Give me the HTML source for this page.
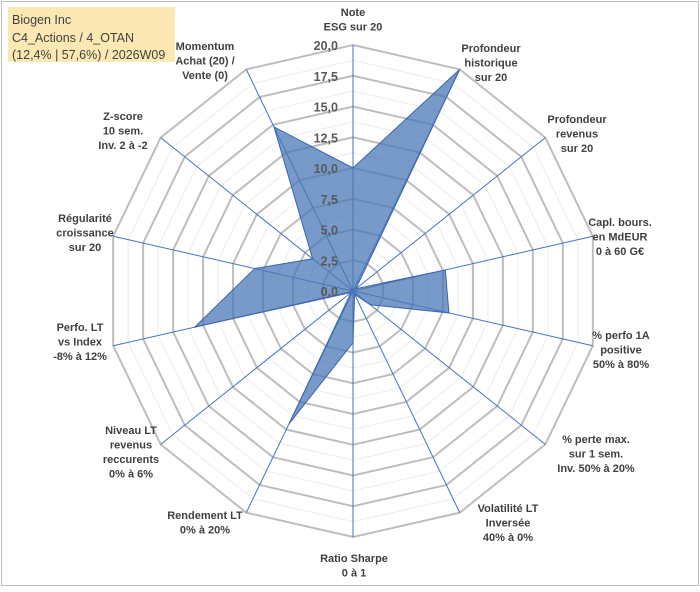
<!DOCTYPE html>
<html><head><meta charset="utf-8"><style>
html,body{margin:0;padding:0;background:#fff;}
svg text{font-family:"Liberation Sans",Arial,sans-serif;}
</style></head><body>
<svg id="c" width="700" height="587" viewBox="0 0 700 587" xmlns="http://www.w3.org/2000/svg">
<rect x="1.5" y="1.5" width="697" height="584" fill="#fff" stroke="#bfbfbf"/>
<g id="grid"></g>
<g id="series"></g>
<g id="labels"></g>
<g id="ticks"></g>
<rect x="8" y="7" width="167" height="55" fill="#fce8b2"/>
<text x="12" y="24" font-size="12.5" fill="#404040">Biogen Inc</text>
<text x="12" y="42" font-size="12.5" fill="#404040">C4_Actions / 4_OTAN</text>
<text x="12" y="59" font-size="12.5" fill="#404040">(12,4% | 57,6%) / 2026W09</text>
</svg>
<script>
const categories=[["Note","ESG sur 20"],["Profondeur","historique","sur 20"],["Profondeur","revenus","sur 20"],["Capl. bours.","en MdEUR","0 à 60 G€"],["% perfo 1A","positive","50% à 80%"],["% perte max.","sur 1 sem.","Inv. 50% à 20%"],["Volatilité LT","Inversée","40% à 0%"],["Ratio Sharpe","0 à 1"],["Rendement LT","0% à 20%"],["Niveau LT","revenus","reccurents","0% à 6%"],["Perfo. LT","vs Index","-8% à 12%"],["Régularité","croissance","sur 20"],["Z-score","10 sem.","Inv. 2 à -2"],["Momentum","Achat (20) /","Vente (0)"]];
const values=[10,20,0.3,7.7,8,1.8,0.3,4.2,12,0.2,13.2,8.2,4.2,14.8];
const tickLabels=["0,0","2,5","5,0","7,5","10,0","12,5","15,0","17,5","20,0"];
const maxV=20;
const cx=353,cy=291,R=246,N=categories.length;
const labelPos=[[353,12],[491,48],[577,119],[620,222],[621,335],[596,439],[508,508],[354,558],[205,515],[131,430],[80,327],[85,218],[123,116],[205,46]];
const NS="http://www.w3.org/2000/svg";
function ang(i){return i*2*Math.PI/N;}
function pt(i,v){const r=v/maxV*R;return [cx+r*Math.sin(ang(i)),cy-r*Math.cos(ang(i))];}
function mk(t,a,p){const e=document.createElementNS(NS,t);for(const k in a)e.setAttribute(k,a[k]);p.appendChild(e);return e;}
const grid=document.getElementById('grid');
for(let k=1;k<=16;k++){
 const v=k*1.25;const pts=[];for(let i=0;i<N;i++)pts.push(pt(i,v).join(','));
 const el=mk('polygon',{points:pts.join(' '),fill:'none',stroke:k%2==0?'#bdbdbd':'#ececec','stroke-width':k%2==0?2:1},grid);
 
 
}
for(let i=0;i<N;i++){
 const p=pt(i,maxV);
 const el=mk('line',{x1:cx,y1:cy,x2:p[0],y2:p[1],stroke:'#4472c4','stroke-width':1},grid);
 
 
}
const ser=document.getElementById('series');
const sp=values.map((v,i)=>pt(i,v).join(',')).join(' ');
const poly=mk('polygon',{points:sp,fill:'#4a78b5','fill-opacity':0.75,stroke:'#3b64b0','stroke-width':1},ser);


const tk=document.getElementById('ticks');
tickLabels.forEach((t,k)=>{
 const y=cy-k*2.5/maxV*R;
 const el=mk('text',{x:338,y:y+5,'text-anchor':'end','font-size':12.5,'font-weight':'bold',fill:'#595959'},tk);
 el.textContent=t;
 
 
});
const lb=document.getElementById('labels');
categories.forEach((lines,i)=>{
 const [x,y]=labelPos[i];
 const el=mk('text',{x:x,y:y+4,'text-anchor':'middle','font-size':11,'font-weight':'bold',fill:'#404040'},lb);
 
 
 lines.forEach((l,j)=>{const ts=mk('tspan',{x:x,dy:j==0?0:14.5},el);ts.textContent=l;});
});
</script>
</body></html>
